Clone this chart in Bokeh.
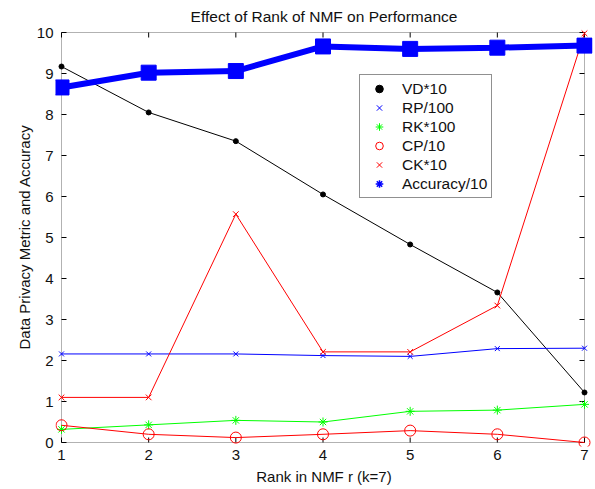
import math
from bokeh.plotting import figure
from bokeh.models import LinearAxis, Range1d, FixedTicker, Legend, LegendItem, BoxAnnotation
from bokeh.embed import file_html
from bokeh.resources import INLINE

# ---- data ----
ranks = [1, 2, 3, 4, 5, 6, 7]
vd = [9.17, 8.05, 7.35, 6.05, 4.83, 3.66, 1.22]
rp = [2.16, 2.16, 2.16, 2.12, 2.10, 2.29, 2.30]
rk = [0.32, 0.43, 0.54, 0.50, 0.76, 0.79, 0.93]
cp = [0.42, 0.20, 0.12, 0.20, 0.29, 0.20, 0.00]
ck = [1.10, 1.10, 5.57, 2.21, 2.21, 3.34, 9.98]
acc = [8.66, 9.02, 9.06, 9.66, 9.60, 9.63, 9.68]
y_ticks = [0, 1, 2, 3, 4, 5, 6, 7, 8, 9, 10]
x_ticks = ranks
labels = ["VD*10", "RP/100", "RK*100", "CP/10", "CK*10", "Accuracy/10"]

# ---- layout constants ----
W, H = 595, 489
B_LEFT, B_RIGHT, B_TOP, B_BOTTOM = 55, 3, 27, 43
PAD_L, PAD_R, PAD_T, PAD_B = 6, 8, 5, 4   # px between frame edge and the axes box
frame_w = W - B_LEFT - B_RIGHT
frame_h = H - B_TOP - B_BOTTOM
px_per_x = (frame_w - PAD_L - PAD_R) / (x_ticks[-1] - x_ticks[0])
px_per_y = (frame_h - PAD_T - PAD_B) / (y_ticks[-1] - y_ticks[0])
x_range = Range1d(x_ticks[0] - PAD_L / px_per_x, x_ticks[-1] + PAD_R / px_per_x)
y_range = Range1d(y_ticks[0] - PAD_B / px_per_y, y_ticks[-1] + PAD_T / px_per_y)

FONT = "Liberation Sans"
FS = "15px"
TXT = "#111111"

p = figure(width=W, height=H, x_range=x_range, y_range=y_range,
           output_backend="svg", toolbar_location=None,
           x_axis_location=None, y_axis_location=None,
           min_border_left=B_LEFT, min_border_right=B_RIGHT,
           min_border_top=B_TOP, min_border_bottom=B_BOTTOM)
p.outline_line_color = None
p.xgrid.visible = False
p.ygrid.visible = False
p.background_fill_color = "white"
p.border_fill_color = "white"

p.title.text = "Effect of Rank of NMF on Performance"
p.title.align = "center"
p.title.text_font = FONT
p.title.text_font_size = "15.5px"
p.title.text_font_style = "normal"
p.title.text_color = TXT
p.title.standoff = 5
p.title.offset = -5


def label_axis(ax):
    ax.axis_line_color = None
    ax.major_tick_line_color = None
    ax.major_tick_in = 0
    ax.major_tick_out = 0
    ax.minor_tick_line_color = None
    ax.major_label_text_font = FONT
    ax.major_label_text_font_size = FS
    ax.major_label_text_color = TXT
    ax.axis_label_text_font = FONT
    ax.axis_label_text_font_size = FS
    ax.axis_label_text_font_style = "normal"
    ax.axis_label_text_color = TXT


left = LinearAxis(ticker=FixedTicker(ticks=y_ticks), axis_label="Data Privacy Metric and Accuracy")
label_axis(left)
left.major_label_standoff = 2
left.axis_label_standoff = 1
p.add_layout(left, "left")

bottom = LinearAxis(ticker=FixedTicker(ticks=x_ticks), axis_label="Rank in NMF r (k=7)")
label_axis(bottom)
bottom.major_label_standoff = 3
bottom.axis_label_standoff = 5
p.add_layout(bottom, "below")

# axes box and inward ticks (MATLAB style)
box = BoxAnnotation(left=x_ticks[0], right=x_ticks[-1], bottom=y_ticks[0], top=y_ticks[-1],
                    fill_alpha=0, line_color="black", line_width=1, level="underlay")
p.add_layout(box)
TICK = 5
p.ray(x=x_ticks, y=[y_ticks[0]] * len(x_ticks), length=TICK, length_units="screen",
      angle=math.pi / 2, line_color="black", level="underlay")
p.ray(x=x_ticks, y=[y_ticks[-1]] * len(x_ticks), length=TICK, length_units="screen",
      angle=-math.pi / 2, line_color="black", level="underlay")
p.ray(x=[x_ticks[0]] * len(y_ticks), y=y_ticks, length=TICK, length_units="screen",
      angle=0, line_color="black", level="underlay")
p.ray(x=[x_ticks[-1]] * len(y_ticks), y=y_ticks, length=TICK, length_units="screen",
      angle=math.pi, line_color="black", level="underlay")

BLUE, GREEN, RED, BLACK = "#0000ff", "#00ff00", "#ff0000", "#000000"

p.line(ranks, vd, line_color=BLACK, line_width=1)
r_vd = p.scatter(ranks, vd, marker="circle", size=5, fill_color=BLACK, line_color=BLACK)

p.line(ranks, rp, line_color=BLUE, line_width=1)
r_rp = p.scatter(ranks, rp, marker="x", size=7, line_color=BLUE, line_width=1)

p.line(ranks, rk, line_color=GREEN, line_width=1)
r_rk = p.scatter(ranks, rk, marker="asterisk", size=9, line_color=GREEN, line_width=1)

p.line(ranks, cp, line_color=RED, line_width=1)
r_cp = p.scatter(ranks, cp, marker="circle", size=11, fill_color=None, line_color=RED, line_width=1)

p.line(ranks, ck, line_color=RED, line_width=1)
r_ck = p.scatter(ranks, ck, marker="x", size=8, line_color=RED, line_width=1)

r_acc = p.scatter(ranks, acc, marker="asterisk", size=8, line_color=BLUE, line_width=1.5)
p.line(ranks, acc, line_color=BLUE, line_width=6)
p.scatter(ranks, acc, marker="square", size=15, fill_color=BLUE, line_color=BLUE)

legend = Legend(items=[LegendItem(label=l, renderers=[r]) for l, r in
                       zip(labels, [r_vd, r_rp, r_rk, r_cp, r_ck, r_acc])],
                location=(304, 248))
legend.border_line_color = "#222222"
legend.border_line_width = 1
legend.background_fill_color = "white"
legend.background_fill_alpha = 1
legend.padding = 4
legend.spacing = 0
legend.margin = 0
legend.label_height = 19
legend.glyph_height = 19
legend.glyph_width = 30
legend.label_standoff = 8
legend.label_text_font = FONT
legend.label_text_font_size = "15.5px"
legend.label_text_color = TXT
p.add_layout(legend, "center")

open("out.html", "w").write(file_html(p, INLINE))
